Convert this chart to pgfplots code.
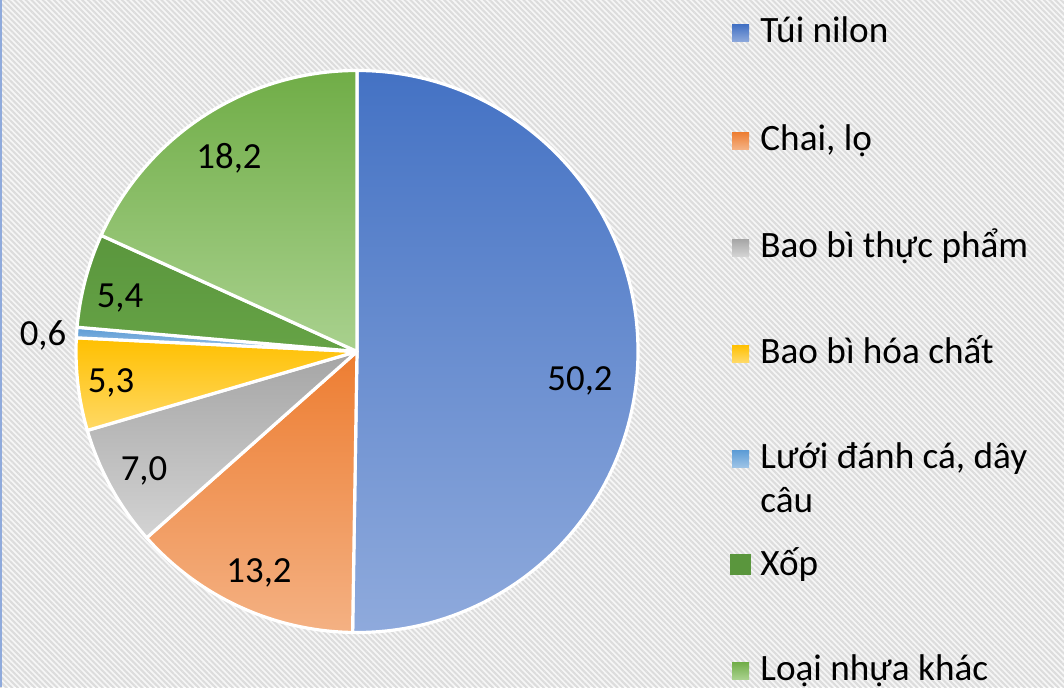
\documentclass[border=0pt]{standalone}
\usepackage{pgfplots}
\pgfplotsset{compat=1.18}
\usepackage{pgfplotstable}
\usepackage{fontspec}
\setmainfont{Carlito}
\usetikzlibrary{patterns.meta}

\definecolor{T0}{HTML}{4472C4}\definecolor{B0}{HTML}{8FAADC}
\definecolor{T1}{HTML}{ED7D31}\definecolor{B1}{HTML}{F4B183}
\definecolor{T2}{HTML}{A5A5A5}\definecolor{B2}{HTML}{D3D3D3}
\definecolor{T3}{HTML}{FFC000}\definecolor{B3}{HTML}{FFD966}
\definecolor{T4}{HTML}{5B9BD5}\definecolor{B4}{HTML}{9DC3E6}
\definecolor{T5}{HTML}{5A963D}\definecolor{B5}{HTML}{66A346}
\definecolor{T6}{HTML}{70AD47}\definecolor{B6}{HTML}{A9D18E}
\definecolor{edgeblue}{HTML}{8FAADC}
\definecolor{stripe}{HTML}{DCDCDC}
\definecolor{bgbase}{HTML}{F6F6F6}

% value = share (%), lx/ly = label position (px, y up from bottom)
\pgfplotstableread{
idx value lx ly
0 50.2 580 297
1 13.2 259 105
2 7.0 144 207
3 5.3 111 295
4 0.6 43 342
5 5.4 120 380
6 18.2 229 519
}\piedata

\def\pietotal{0}%
\pgfplotsforeachungrouped \i in {0,...,6}{%
  \pgfplotstablegetelem{\i}{value}\of\piedata
  \pgfmathsetmacro\pietotal{\pietotal+\pgfplotsretval}%
}%
\def\curA{90}%
\pgfplotsforeachungrouped \i in {0,...,6}{%
  \pgfplotstablegetelem{\i}{value}\of\piedata
  \pgfmathsetmacro\nextA{\curA-\pgfplotsretval/\pietotal*360}%
  \expandafter\xdef\csname sA\i\endcsname{\curA}%
  \expandafter\xdef\csname eA\i\endcsname{\nextA}%
  \xdef\curA{\nextA}%
}%

\newcommand\legfont{\fontsize{18.6}{22}\selectfont}
\newcommand\labfont{\fontsize{18.4}{22}\selectfont}

\begin{document}
\begin{tikzpicture}
\begin{axis}[
  scale only axis, width=532pt, height=343.5pt,
  xmin=0, xmax=1064, ymin=0, ymax=687,
  hide axis, clip=false,
  /pgf/number format/.cd, use comma, fixed, fixed zerofill, precision=1, assume math mode=true,
]
% background
\fill[bgbase] (axis cs:0,0) rectangle (axis cs:1064,687);
\fill[pattern={Lines[angle=-45,distance=2pt,line width=1pt]}, pattern color=stripe]
  (axis cs:0,0) rectangle (axis cs:1064,687);
\draw[edgeblue, line width=1pt] (axis cs:1,0) -- (axis cs:1,687);
% pie slices
\pgfplotsinvokeforeach{0,...,6}{
  \shadedraw[top color=T#1, bottom color=B#1, draw=white, line width=1.6pt, line join=round]
    (axis cs:357,335.5) -- ++(\csname sA#1\endcsname:140.5pt)
    arc[start angle=\csname sA#1\endcsname, end angle=\csname eA#1\endcsname, radius=140.5pt] -- cycle;
}
% data labels
\addplot[draw=none, mark=none, point meta=explicit,
  nodes near coords,
  every node near coord/.style={anchor=base, inner sep=0pt, font=\labfont, text=black}]
  table[x=lx, y=ly, meta=value] {\piedata};
% legend
\shade[top color=T0,bottom color=B0] (axis cs:732,645) rectangle (axis cs:749,662);
\shade[top color=T1,bottom color=B1] (axis cs:732,538) rectangle (axis cs:749,555);
\shade[top color=T2,bottom color=B2] (axis cs:732,431) rectangle (axis cs:749,448);
\shade[top color=T3,bottom color=B3] (axis cs:732,325) rectangle (axis cs:749,342);
\shade[top color=T4,bottom color=B4] (axis cs:732,220) rectangle (axis cs:749,237);
\fill[T5] (axis cs:730,112) rectangle (axis cs:751,133);
\shade[top color=T6,bottom color=B6] (axis cs:732,8) rectangle (axis cs:749,25);
\begin{scope}[every node/.style={anchor=base west, inner sep=0pt, font=\legfont}]
\node at (axis cs:760,644) {Túi nilon};
\node at (axis cs:760,537) {Chai, lọ};
\node at (axis cs:760,430) {Bao bì thực phẩm};
\node at (axis cs:760,324) {Bao bì hóa chất};
\node at (axis cs:760,219) {Lưới đánh cá, dây};
\node at (axis cs:760,175) {câu};
\node at (axis cs:760,112) {Xốp};
\node at (axis cs:760,7) {Loại nhựa khác};
\end{scope}
\end{axis}
\pgfresetboundingbox
\useasboundingbox (current axis.south west) rectangle (current axis.north east);
\end{tikzpicture}
\end{document}
